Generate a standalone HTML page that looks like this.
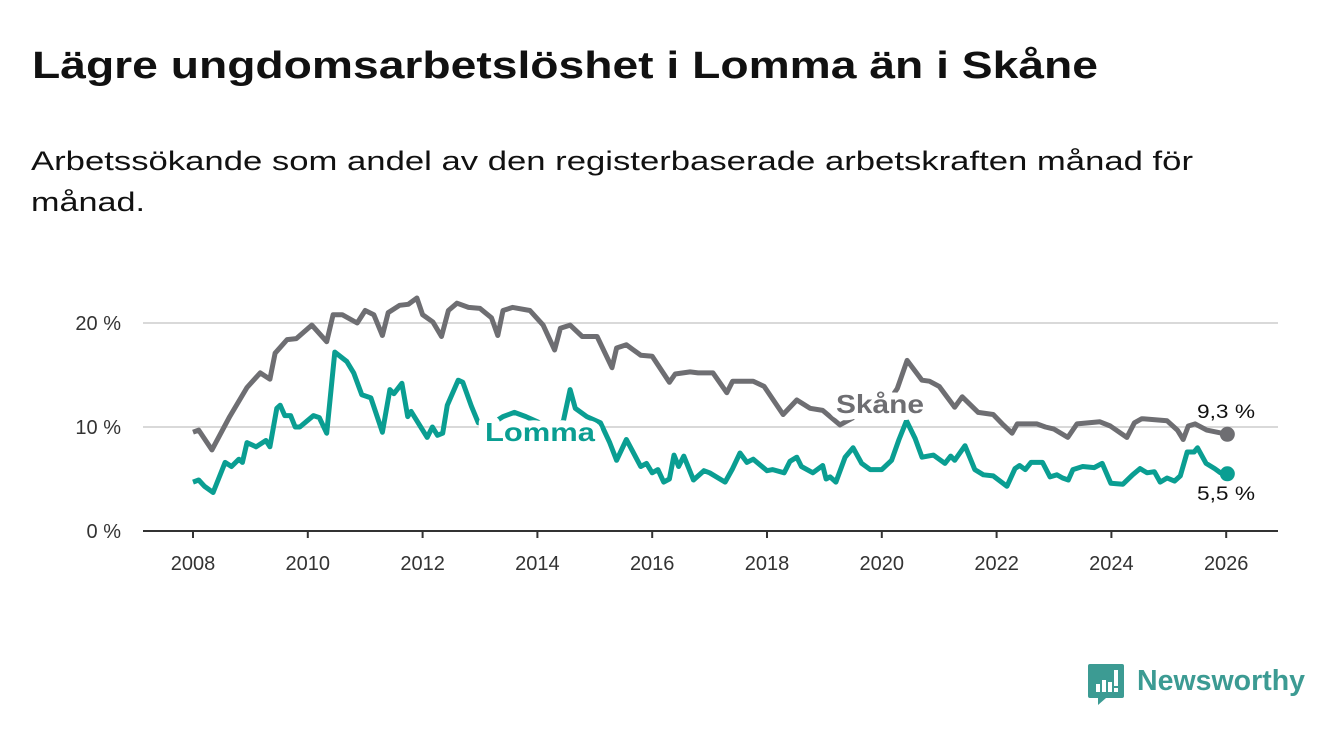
<!DOCTYPE html>
<html><head><meta charset="utf-8"><style>
html,body{margin:0;padding:0;background:#fff;}
svg{display:block;font-family:"Liberation Sans",sans-serif;}
</style></head><body>
<svg width="1340" height="734" viewBox="0 0 1340 734">
<text x="32" y="78" font-size="38" font-weight="bold" fill="#111" textLength="1066" lengthAdjust="spacingAndGlyphs">Lägre ungdomsarbetslöshet i Lomma än i Skåne</text>
<text x="31" y="170" font-size="27" fill="#111" textLength="1162" lengthAdjust="spacingAndGlyphs">Arbetssökande som andel av den registerbaserade arbetskraften månad för</text>
<text x="31" y="211" font-size="27" fill="#111" textLength="114" lengthAdjust="spacingAndGlyphs">månad.</text>
<g id="grid"></g>
<g id="xaxis"></g>
<g id="lines"></g>
<g id="labels"></g>
<g>
<path d="M1090 664 h32 a2 2 0 0 1 2 2 v30 a2 2 0 0 1 -2 2 h-16 l-8 7 v-7 h-8 a2 2 0 0 1 -2 -2 v-30 a2 2 0 0 1 2 -2z" fill="#3c9b93"/>
<rect x="1096" y="684" width="4" height="8" fill="#fff"/><rect x="1102" y="680" width="4" height="12" fill="#fff"/><rect x="1108" y="682" width="4" height="10" fill="#fff"/><rect x="1114" y="670" width="4" height="16" fill="#fff"/><rect x="1114" y="688" width="4" height="4" fill="#fff"/>
<text x="1137" y="690" font-size="29" font-weight="bold" fill="#3c9b93" textLength="168" lengthAdjust="spacingAndGlyphs">Newsworthy</text>
</g>
</svg>
<script>
const yTicks=[0,10,20];
const yTickLabels=["0 %","10 %","20 %"];
const xTicks=[2008,2010,2012,2014,2016,2018,2020,2022,2024,2026];
const skaneX=[2008,2008.1,2008.33,2008.64,2008.94,2009.17,2009.34,2009.43,2009.64,2009.8,2010.07,2010.33,2010.44,2010.6,2010.86,2011,2011.15,2011.3,2011.4,2011.6,2011.75,2011.9,2012,2012.18,2012.33,2012.45,2012.6,2012.8,2013,2013.2,2013.31,2013.4,2013.57,2013.87,2014.1,2014.3,2014.4,2014.57,2014.78,2015.04,2015.3,2015.38,2015.55,2015.8,2016,2016.3,2016.4,2016.66,2016.8,2017.06,2017.3,2017.4,2017.76,2017.95,2018.28,2018.52,2018.75,2018.97,2019.27,2019.6,2019.9,2020.1,2020.27,2020.44,2020.7,2020.83,2021,2021.27,2021.4,2021.68,2021.94,2022.1,2022.27,2022.36,2022.7,2022.85,2023,2023.24,2023.4,2023.8,2023.98,2024.27,2024.4,2024.53,2024.97,2025.15,2025.25,2025.34,2025.46,2025.66,2026.02];
const skaneY=[9.5,9.7,7.8,11.0,13.8,15.2,14.6,17.1,18.4,18.5,19.8,18.2,20.8,20.8,20.0,21.2,20.8,18.8,21.0,21.7,21.8,22.4,20.8,20.1,18.7,21.2,21.9,21.5,21.4,20.5,18.8,21.2,21.5,21.2,19.8,17.4,19.5,19.8,18.7,18.7,15.7,17.6,17.9,16.9,16.8,14.3,15.1,15.3,15.2,15.2,13.3,14.4,14.4,13.9,11.2,12.6,11.8,11.6,10.2,11.2,11.5,12.3,13.7,16.4,14.5,14.4,13.9,11.9,12.9,11.4,11.2,10.3,9.4,10.3,10.3,10.0,9.8,9.0,10.3,10.5,10.1,9.0,10.4,10.8,10.6,9.7,8.8,10.1,10.3,9.7,9.3];
const lommaX=[2008,2008.1,2008.2,2008.35,2008.56,2008.67,2008.8,2008.86,2008.94,2009.1,2009.27,2009.34,2009.46,2009.52,2009.6,2009.7,2009.78,2009.86,2010.1,2010.2,2010.33,2010.47,2010.68,2010.8,2010.94,2011.1,2011.3,2011.43,2011.5,2011.64,2011.74,2011.8,2011.9,2012.08,2012.17,2012.26,2012.35,2012.43,2012.62,2012.7,2012.85,2012.97,2013.2,2013.4,2013.6,2013.8,2014.0,2014.2,2014.45,2014.57,2014.66,2014.86,2015.1,2015.26,2015.38,2015.55,2015.8,2015.9,2016,2016.1,2016.2,2016.3,2016.38,2016.46,2016.55,2016.72,2016.9,2017,2017.27,2017.4,2017.53,2017.65,2017.76,2018,2018.1,2018.3,2018.4,2018.52,2018.6,2018.8,2018.97,2019.03,2019.1,2019.2,2019.36,2019.5,2019.65,2019.8,2020,2020.17,2020.3,2020.43,2020.58,2020.7,2020.9,2021.1,2021.2,2021.27,2021.45,2021.62,2021.77,2021.94,2022.18,2022.32,2022.4,2022.5,2022.6,2022.8,2022.93,2023.05,2023.15,2023.25,2023.33,2023.5,2023.7,2023.84,2023.99,2024.2,2024.37,2024.5,2024.62,2024.75,2024.85,2024.97,2025.1,2025.2,2025.32,2025.44,2025.5,2025.65,2025.8,2025.9,2026.02];
const lommaY=[4.7,4.9,4.3,3.7,6.6,6.2,6.9,6.6,8.5,8.1,8.7,8.1,11.8,12.1,11.1,11.1,10.0,10.0,11.1,10.9,9.4,17.2,16.3,15.2,13.1,12.8,9.5,13.6,13.2,14.2,11.0,11.5,10.6,9.0,10.0,9.2,9.4,12.1,14.5,14.3,12.0,10.4,10.3,11.0,11.4,11.0,10.5,10.0,10.5,13.6,11.8,11.0,10.4,8.5,6.8,8.8,6.2,6.5,5.6,5.9,4.7,5.0,7.3,6.2,7.2,4.9,5.8,5.6,4.7,6.0,7.5,6.6,6.9,5.8,5.9,5.6,6.7,7.1,6.2,5.6,6.3,5.0,5.2,4.7,7.1,8.0,6.5,5.9,5.9,6.8,8.8,10.6,8.9,7.1,7.3,6.5,7.2,6.8,8.2,5.9,5.4,5.3,4.3,6.0,6.3,5.9,6.6,6.6,5.2,5.4,5.1,4.9,5.9,6.2,6.1,6.5,4.6,4.5,5.4,6.0,5.6,5.7,4.7,5.1,4.8,5.3,7.6,7.6,8.0,6.5,6.0,5.6,5.5];
const NS="http://www.w3.org/2000/svg";
const xs=v=>193+(v-2008)*57.4;
const ys=v=>531-v*10.4;
function mk(tag,attrs,parent){const e=document.createElementNS(NS,tag);for(const k in attrs)e.setAttribute(k,attrs[k]);parent.appendChild(e);return e;}
const grid=document.getElementById('grid');
yTicks.forEach((t,i)=>{
  if(t>0){const l=mk('line',{x1:143,x2:1278,y1:ys(t),y2:ys(t),stroke:'#d9d9d9','stroke-width':2},grid);
  
  }
  const tx=mk('text',{x:121,y:ys(t)+7,'font-size':20,fill:'#333','text-anchor':'end'},grid);
  tx.textContent=yTickLabels[i];
  
  
});
const xa=document.getElementById('xaxis');
const ax=mk('line',{x1:143,x2:1278,y1:531,y2:531,stroke:'#333','stroke-width':2},xa);


xTicks.forEach(t=>{
  const tk=mk('line',{x1:xs(t),x2:xs(t),y1:531,y2:538,stroke:'#333','stroke-width':2},xa);
  
  
  const tx=mk('text',{x:xs(t),y:570,'font-size':20,fill:'#333','text-anchor':'middle'},xa);
  tx.textContent=t;
  
  
});
const lg=document.getElementById('lines');
function line(X,Y,color,name){
  const d=X.map((x,i)=>(i?'L':'M')+xs(x).toFixed(1)+' '+ys(Y[i]).toFixed(1)).join(' ');
  const p=mk('path',{d:d,fill:'none',stroke:color,'stroke-width':5,'stroke-linejoin':'round'},lg);
  
  
  const c=mk('circle',{cx:xs(X[X.length-1]),cy:ys(Y[Y.length-1]),r:7.5,fill:color},lg);
  
  
}
line(skaneX,skaneY,'#6e6e72','skane');
line(lommaX,lommaY,'#0a9e92','lomma');
const lb=document.getElementById('labels');
function lab(x,y,txt,color,name,size,bold,w){
  const t=mk('text',{x:x,y:y,'font-size':size,fill:color,'font-weight':bold?'bold':'normal',stroke:'#fff','stroke-width':bold?14:5,'paint-order':'stroke','stroke-linejoin':'round'},lb);
  if(w){t.setAttribute('textLength',w);t.setAttribute('lengthAdjust','spacingAndGlyphs');}
  t.textContent=txt;
  
  
}
lab(485,441,'Lomma','#0a9e92','lomma-label',26,true,110);
lab(836,413,'Skåne','#6e6e72','skane-label',26,true,88);
lab(1197,418,'9,3 %','#111','skane-end-value',19,false,58);
lab(1197,500,'5,5 %','#111','lomma-end-value',19,false,58);
</script>
</body></html>
